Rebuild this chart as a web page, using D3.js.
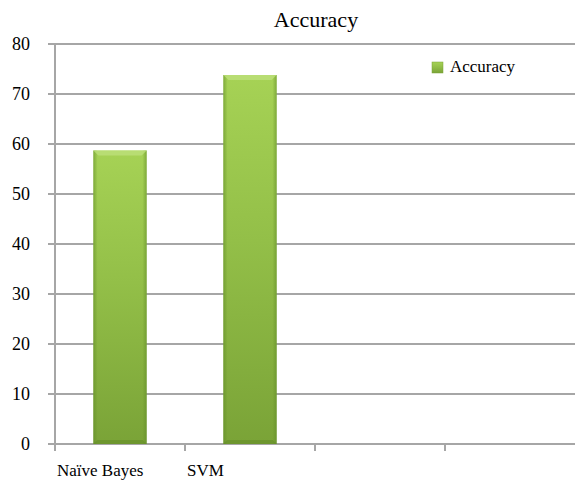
<!DOCTYPE html>
<html><head><meta charset="utf-8">
<script src="https://cdn.jsdelivr.net/npm/d3@7"></script>
<style>svg text{font-family:"Times New Roman","Liberation Serif",Times,serif !important}</style>
</head><body style="margin:0;background:#fff"><div id="c"></div>
<script>
const categories = ["Naïve Bayes", "SVM", "", " "];
const values = [58.7, 73.8, null, null];
const yTicks = [0, 10, 20, 30, 40, 50, 60, 70, 80];
const seriesName = "Accuracy";
const title = "Accuracy";

const W = 575, H = 484;
const m = {left: 55, right: 0, top: 44, bottom: 40};
const FONT = "Times New Roman";
const svg = d3.select("#c").append("svg").attr("width", W).attr("height", H).style("display", "block");

const defs = svg.append("defs");
const g1 = defs.append("linearGradient").attr("id","bg").attr("x1",0).attr("y1",0).attr("x2",0).attr("y2",1);
g1.append("stop").attr("offset","0%").attr("stop-color","#a6d255");
g1.append("stop").attr("offset","45%").attr("stop-color","#93bf48");
g1.append("stop").attr("offset","100%").attr("stop-color","#7aa337");
const g2 = defs.append("linearGradient").attr("id","sg").attr("x1",0).attr("y1",0).attr("x2",1).attr("y2",0);
g2.append("stop").attr("offset","0%").attr("stop-color","#5f8a26").attr("stop-opacity",0.55);
g2.append("stop").attr("offset","8%").attr("stop-color","#5f8a26").attr("stop-opacity",0);
g2.append("stop").attr("offset","92%").attr("stop-color","#5f8a26").attr("stop-opacity",0);
g2.append("stop").attr("offset","100%").attr("stop-color","#5f8a26").attr("stop-opacity",0.55);

const x = d3.scaleBand().domain(categories).range([m.left, W - m.right]).paddingInner(0.59).paddingOuter(0.295);
const xb = d3.scaleBand().domain(categories).range([m.left, W - m.right]);
const y = d3.scaleLinear().domain([0, 80]).range([H - m.bottom, m.top]);

svg.append("g").selectAll("line").data(yTicks).join("line")
  .attr("x1", m.left - 7).attr("x2", W).attr("y1", d => y(d)).attr("y2", d => y(d))
  .attr("stroke", "#a6a6a6").attr("stroke-width", 2);
svg.append("line").attr("x1", m.left).attr("x2", m.left).attr("y1", y(80)).attr("y2", y(0))
  .attr("stroke", "#a6a6a6").attr("stroke-width", 2);
svg.append("g").selectAll("line").data(categories).join("line")
  .attr("x1", d => xb(d)).attr("x2", d => xb(d)).attr("y1", y(0)).attr("y2", y(0) + 7)
  .attr("stroke", "#a6a6a6").attr("stroke-width", 2);

svg.append("g").selectAll("text").data(yTicks).join("text")
  .attr("x", 30).attr("y", d => y(d) + 6).attr("text-anchor", "end")
  .attr("font-family", FONT).attr("font-size", 18).text(d => d);

const data = categories.map((c, i) => ({c, v: values[i]})).filter(d => d.v != null);
const bars = svg.append("g").selectAll("g").data(data).join("g");
bars.append("rect").attr("x", d => x(d.c)).attr("y", d => y(d.v)).attr("width", x.bandwidth())
  .attr("height", d => y(0) - y(d.v)).attr("fill", "url(#bg)");
bars.append("rect").attr("x", d => x(d.c)).attr("y", d => y(d.v)).attr("width", x.bandwidth())
  .attr("height", d => y(0) - y(d.v)).attr("fill", "url(#sg)");
bars.append("path").attr("d", d => {
  const x0 = x(d.c), x1 = x0 + x.bandwidth(), t = y(d.v), b = 5;
  return `M${x0},${t}L${x1},${t}L${x1-b},${t+b}L${x0+b},${t+b}Z`;
}).attr("fill", "#bde07a").attr("opacity", 0.8);
bars.append("path").attr("d", d => {
  const x0 = x(d.c), x1 = x0 + x.bandwidth(), t = y(0), b = 4;
  return `M${x0},${t}L${x1},${t}L${x1-b},${t-b}L${x0+b},${t-b}Z`;
}).attr("fill", "#5f8a26").attr("opacity", 0.5);

svg.append("g").selectAll("text").data(categories.filter(c => c.trim() !== "")).join("text")
  .attr("x", d => xb(d) + 2).attr("y", 476).attr("font-family", FONT).attr("font-size", 17)
  .text(d => d);

svg.append("text").attr("x", 316).attr("y", 27).attr("text-anchor", "middle")
  .attr("font-family", FONT).attr("font-size", 22).text(title);

const lg = svg.append("g").attr("transform", "translate(432,62)");
lg.append("rect").attr("width", 11).attr("height", 11).attr("fill", "url(#bg)").attr("stroke", "#7aa337").attr("stroke-width", 0.5);
lg.append("text").attr("x", 18).attr("y", 10).attr("font-family", FONT).attr("font-size", 17)
  .text(seriesName);
</script></body></html>
